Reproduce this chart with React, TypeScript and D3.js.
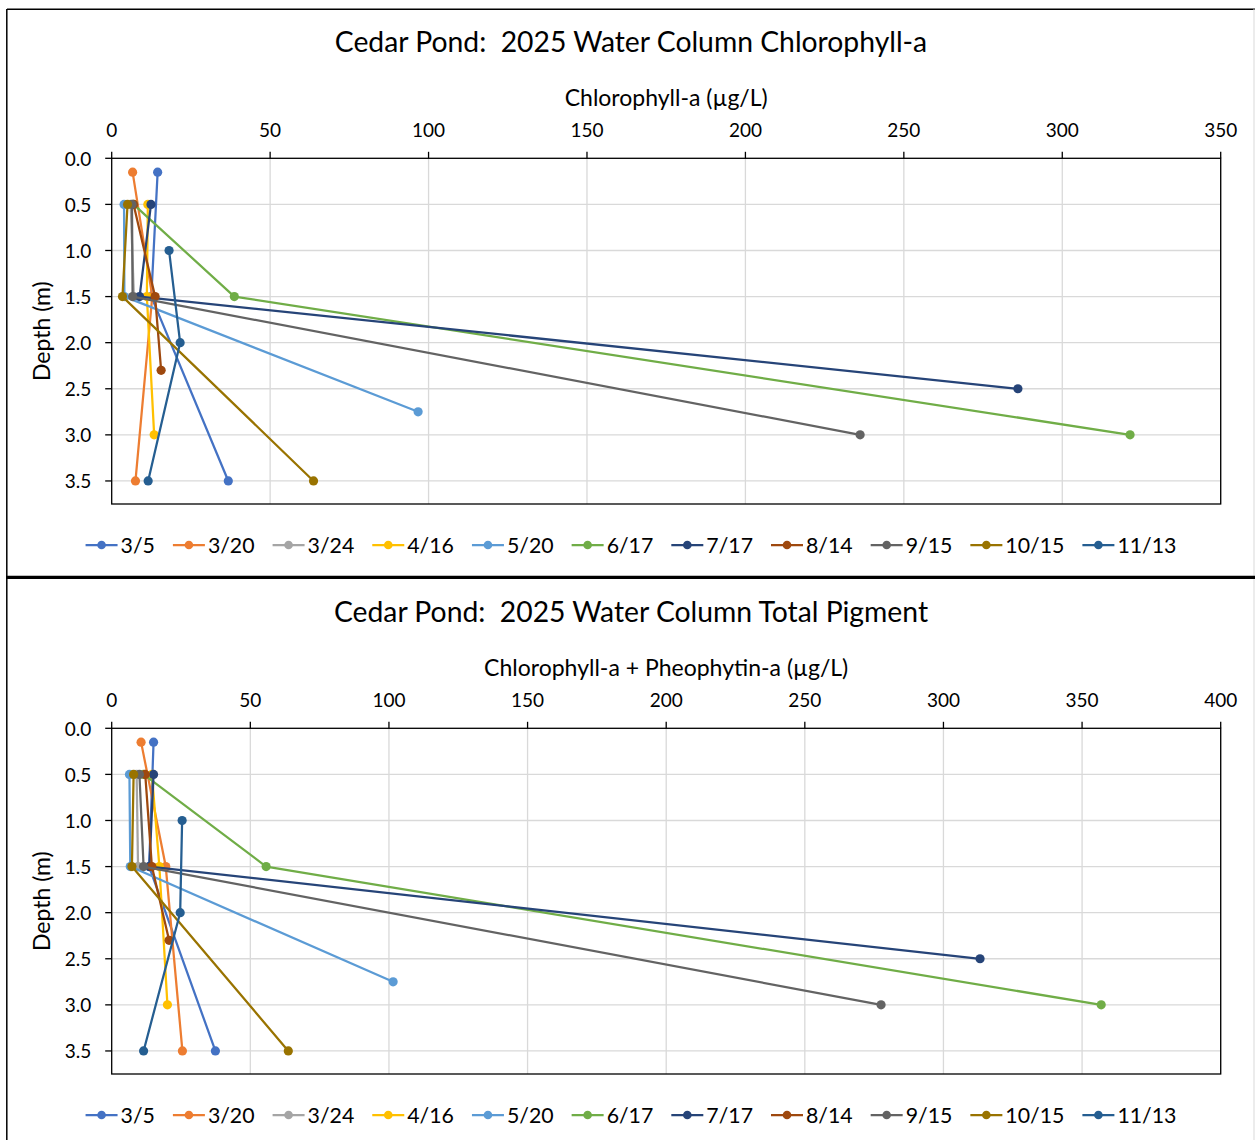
import React from 'react';
import * as d3 from 'd3';

const dates = ['3/5', '3/20', '3/24', '4/16', '5/20', '6/17', '7/17', '8/14', '9/15', '10/15', '11/13'];
const colors = ['#4472C4', '#ED7D31', '#A5A5A5', '#FFC000', '#5B9BD5', '#70AD47', '#264478', '#9E480E', '#636363', '#997300', '#255E91'];

const depths = [
  [0.15, 1.5, 3.5],
  [0.15, 1.5, 3.5],
  [0.5, 1.5],
  [0.5, 1.5, 3.0],
  [0.5, 1.5, 2.75],
  [0.5, 1.5, 3.0],
  [0.5, 1.5, 2.5],
  [0.5, 1.5, 2.3],
  [0.5, 1.5, 3.0],
  [0.5, 1.5, 3.5],
  [1.0, 2.0, 3.5],
];

const chlA = [
  [14.5, 12.5, 36.8],
  [6.6, 12.8, 7.5],
  [6.0, 7.0],
  [11.4, 11.1, 13.4],
  [3.9, 4.0, 96.7],
  [6.9, 38.7, 321.4],
  [12.4, 8.8, 286.0],
  [6.9, 13.7, 15.6],
  [6.4, 6.6, 236.2],
  [5.0, 3.4, 63.7],
  [18.1, 21.6, 11.5],
];

const totalPigment = [
  [15.1, 13.5, 37.4],
  [10.6, 19.5, 25.5],
  [9.0, 9.5],
  [14.5, 17.2, 20.1],
  [6.4, 6.7, 101.5],
  [11.5, 55.7, 356.9],
  [15.1, 13.6, 313.2],
  [12.1, 14.5, 20.7],
  [10.0, 11.5, 277.5],
  [7.9, 7.3, 63.7],
  [25.4, 24.7, 11.5],
];

const depthTicks = [0, 0.5, 1.0, 1.5, 2.0, 2.5, 3.0, 3.5];
const topXTicks = [0, 50, 100, 150, 200, 250, 300, 350];
const bottomXTicks = [0, 50, 100, 150, 200, 250, 300, 350, 400];

const FONT = 'Lato, "Open Sans", sans-serif';

let measureCtx: CanvasRenderingContext2D | null = null;
function textWidth(t: string, size: number) {
  if (!measureCtx) {
    const c = document.createElement('canvas');
    measureCtx = c.getContext('2d');
  }
  if (!measureCtx) return t.length * size * 0.5;
  measureCtx.font = `${size}px ${FONT}`;
  return measureCtx.measureText(t).width;
}

type ChartProps = {
  top: number;
  title: string;
  xTitle: string;
  xMax: number;
  xTicks: number[];
  values: number[][];
};

function Chart({ top, title, xTitle, xMax, xTicks, values }: ChartProps) {
  const plotLeft = 111.7;
  const plotRight = 1220.7;
  const plotTop = top + 149.3;
  const plotBottom = top + 495;
  const x = d3.scaleLinear().domain([0, xMax]).range([plotLeft, plotRight]);
  const y = d3.scaleLinear().domain([0, 3.75]).range([plotTop, plotBottom]);
  const line = d3
    .line<[number, number]>()
    .x((d) => x(d[0]))
    .y((d) => y(d[1]));
  const centerX = 631;

  const legendSize = 21.3;
  const lineLen = 32;
  const gapText = 3;
  const gapItem = 18;
  const widths = dates.map((d) => lineLen + gapText + textWidth(d, legendSize));
  const total = d3.sum(widths) + gapItem * (dates.length - 1);
  let cursor = centerX - total / 2;
  const legendPos = widths.map((w) => {
    const p = cursor;
    cursor += w + gapItem;
    return p;
  });
  const legendY = top + 536;

  return (
    <g>
      <text
        x={centerX}
        y={top + 43}
        textAnchor="middle"
        fontSize={28.3}
        fill="#000"
        xmlSpace="preserve"
        style={{ fontFamily: FONT, whiteSpace: 'pre' }}
      >
        {title}
      </text>
      <text x={(plotLeft + plotRight) / 2} y={top + 97} textAnchor="middle" fontSize={23} fill="#000" style={{ fontFamily: FONT }}>
        {xTitle}
      </text>
      <text
        transform={`translate(${44},${(plotTop + plotBottom) / 2}) rotate(-90)`}
        textAnchor="middle"
        dominantBaseline="middle"
        fontSize={23}
        fill="#000"
        style={{ fontFamily: FONT }}
      >
        Depth (m)
      </text>
      {/* gridlines */}
      {xTicks.slice(1).map((t) => (
        <line key={'gx' + t} x1={x(t)} x2={x(t)} y1={plotTop} y2={plotBottom} stroke="#D9D9D9" strokeWidth={1.3} />
      ))}
      {depthTicks.slice(1).map((t) => (
        <line key={'gy' + t} x1={plotLeft} x2={plotRight} y1={y(t)} y2={y(t)} stroke="#D9D9D9" strokeWidth={1.3} />
      ))}
      <rect x={plotLeft} y={plotTop} width={plotRight - plotLeft} height={plotBottom - plotTop} fill="none" stroke="#000" strokeWidth={1.3} />
      {/* x ticks */}
      {xTicks.map((t) => (
        <g key={'tx' + t}>
          <line x1={x(t)} x2={x(t)} y1={plotTop - 6.5} y2={plotTop} stroke="#000" strokeWidth={1.3} />
          <text x={x(t)} y={plotTop - 21} textAnchor="middle" fontSize={19} fill="#000" style={{ fontFamily: FONT }}>
            {t}
          </text>
        </g>
      ))}
      {/* y ticks */}
      {depthTicks.map((t) => (
        <g key={'ty' + t}>
          <line x1={plotLeft - 6.5} x2={plotLeft} y1={y(t)} y2={y(t)} stroke="#000" strokeWidth={1.3} />
          <text x={plotLeft - 20.5} y={y(t)} textAnchor="end" dominantBaseline="central" fontSize={19} fill="#000" style={{ fontFamily: FONT }}>
            {d3.format('.1f')(t)}
          </text>
        </g>
      ))}
      {/* series */}
      {dates.map((d, i) => {
        const pts: [number, number][] = values[i].map((v, j) => [v, depths[i][j]]);
        return (
          <g key={'s' + d}>
            <path d={line(pts) || ''} fill="none" stroke={colors[i]} strokeWidth={2.25} strokeLinejoin="round" />
            {pts.map((p, j) => (
              <circle key={j} cx={x(p[0])} cy={y(p[1])} r={4.6} fill={colors[i]} />
            ))}
          </g>
        );
      })}
      {/* legend */}
      {dates.map((d, i) => (
        <g key={'l' + d}>
          <line x1={legendPos[i]} x2={legendPos[i] + lineLen} y1={legendY} y2={legendY} stroke={colors[i]} strokeWidth={2.25} />
          <circle cx={legendPos[i] + lineLen / 2} cy={legendY} r={4.3} fill={colors[i]} />
          <text x={legendPos[i] + lineLen + gapText} y={legendY} dominantBaseline="central" fontSize={legendSize} fill="#000" style={{ fontFamily: FONT }}>
            {d}
          </text>
        </g>
      ))}
    </g>
  );
}

export default function App() {
  return (
    <svg
      width={1255}
      height={1140}
      style={{ position: 'absolute', left: 0, top: 0, display: 'block', background: '#fff' }}
    >
      <rect x={0} y={0} width={1255} height={1140} fill="#fff" />
      {/* chart frames */}
      <line x1={7} x2={1255} y1={9.3} y2={9.3} stroke="#000" strokeWidth={1.5} />
      <line x1={6.8} x2={6.8} y1={9} y2={1140} stroke="#000" strokeWidth={1.5} />
      <line x1={1254} x2={1254} y1={9} y2={1140} stroke="#D9D9D9" strokeWidth={1} />
      <line x1={6} x2={1255} y1={577.3} y2={577.3} stroke="#000" strokeWidth={3.2} />
      <Chart top={9} title="Cedar Pond:  2025 Water Column Chlorophyll-a" xTitle="Chlorophyll-a (µg/L)" xMax={350} xTicks={topXTicks} values={chlA} />
      <Chart
        top={579}
        title="Cedar Pond:  2025 Water Column Total Pigment"
        xTitle="Chlorophyll-a + Pheophytin-a (µg/L)"
        xMax={400}
        xTicks={bottomXTicks}
        values={totalPigment}
      />
    </svg>
  );
}
